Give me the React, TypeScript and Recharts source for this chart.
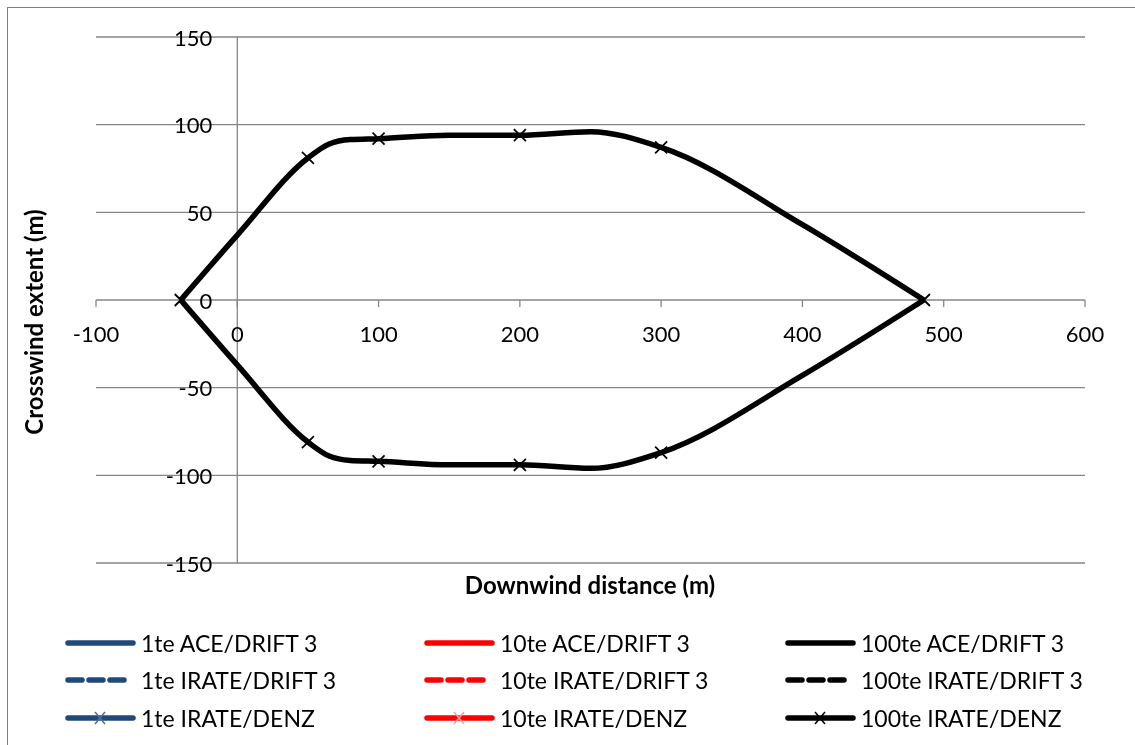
import type { ReactElement } from 'react';
import {
  LineChart,
  Line,
  Scatter,
  XAxis,
  YAxis,
  CartesianGrid,
  ReferenceLine,
  Legend,
} from 'recharts';

/* ------------------------------------------------------------------ */
/*  Data                               */
/* ------------------------------------------------------------------ */

// upper edge of the 100te cloud (downwind m, crosswind m)
const UPPER_EDGE = [
  { x: -40, y: 0 },
  { x: 0, y: 37 },
  { x: 50, y: 81 },
  { x: 65, y: 89 },
  { x: 80, y: 91.5 },
  { x: 100, y: 92 },
  { x: 150, y: 94 },
  { x: 200, y: 94 },
  { x: 250, y: 96 },
  { x: 300, y: 87 },
  { x: 400, y: 43 },
  { x: 486, y: 0 },
];

const LOWER_EDGE = [
  { x: -40, y: 0 },
  { x: 0, y: -37 },
  { x: 50, y: -81 },
  { x: 65, y: -89 },
  { x: 80, y: -91.5 },
  { x: 100, y: -92 },
  { x: 150, y: -94 },
  { x: 200, y: -94 },
  { x: 250, y: -96 },
  { x: 300, y: -87 },
  { x: 400, y: -43 },
  { x: 486, y: 0 },
];

// IRATE/DENZ points (drawn as crosses)
const DENZ_POINTS = [
  { x: -40, y: 0 },
  { x: 50, y: 81 },
  { x: 100, y: 92 },
  { x: 200, y: 94 },
  { x: 300, y: 87 },
  { x: 486, y: 0 },
  { x: 50, y: -81 },
  { x: 100, y: -92 },
  { x: 200, y: -94 },
  { x: 300, y: -87 },
];

const X_TICKS = [-100, 0, 100, 200, 300, 400, 500, 600];
const Y_TICKS = [-150, -100, -50, 0, 50, 100, 150];

const LEGEND_NAMES = [
  '1te ACE/DRIFT 3',
  '10te ACE/DRIFT 3',
  '100te ACE/DRIFT 3',
  '1te IRATE/DRIFT 3',
  '10te IRATE/DRIFT 3',
  '100te IRATE/DRIFT 3',
  '1te IRATE/DENZ',
  '10te IRATE/DENZ',
  '100te IRATE/DENZ',
];
const LEGEND_COLORS = ['#1F497D', '#FF0000', '#000000'];
const LEGEND_CROSS_COLORS = ['#4F6FA0', '#F2A0A0', '#000000'];
const LEGEND_STYLES = ['solid', 'dash', 'cross'];

/* ------------------------------------------------------------------ */
/*  Layout                                                             */
/* ------------------------------------------------------------------ */

const CHART_W = 1127;
const CHART_H = 737;
const PLOT_LEFT = 88;
const PLOT_TOP = 29;
const PLOT_W = 989;
const PLOT_H = 526;
const X_MIN = -100;
const X_MAX = 600;
const AXIS_SIZE = 30;

const ZERO_X = PLOT_LEFT + (PLOT_W * (0 - X_MIN)) / (X_MAX - X_MIN);
const ZERO_Y = PLOT_TOP + PLOT_H / 2;

const FONT = 'Lato, "Open Sans", sans-serif';
const GRID = '#868686';

function XTick(props: any): ReactElement {
  const { x, payload } = props;
  return (
    <g>
      <line x1={x} x2={x} y1={ZERO_Y} y2={ZERO_Y + 7} stroke={GRID} strokeWidth={1.3} />
      <text
        x={x}
        y={ZERO_Y + 33}
        textAnchor="middle"
        dominantBaseline="central"
        fontFamily={FONT}
        fontSize={22}
        fill="#000"
      >
        {payload.value}
      </text>
    </g>
  );
}

function YTick(props: any): ReactElement {
  const { y, payload } = props;
  return (
    <text
      x={ZERO_X - 25}
      y={y}
      textAnchor="end"
      dominantBaseline="central"
      fontFamily={FONT}
      fontSize={22}
      fill="#000"
    >
      {payload.value}
    </text>
  );
}

function Cross(props: any): ReactElement {
  const { cx, cy } = props;
  const s = 6;
  return (
    <g stroke="#000" strokeWidth={1.8}>
      <line x1={cx - s} y1={cy - s} x2={cx + s} y2={cy + s} />
      <line x1={cx - s} y1={cy + s} x2={cx + s} y2={cy - s} />
    </g>
  );
}

function LegendIcon({ color, crossColor, style }: { color: string; crossColor: string; style: string }) {
  return (
    <svg width={72} height={14} style={{ display: 'block', flex: 'none' }}>
      {style === 'dash' ? (
        <line x1={3} x2={64} y1={7} y2={7} stroke={color} strokeWidth={5.5} strokeDasharray="14 7" strokeLinecap="round" />
      ) : (
        <line x1={3} x2={68} y1={7} y2={7} stroke={color} strokeWidth={5.5} strokeLinecap="round" />
      )}
      {style === 'cross' && (
        <g stroke={crossColor} strokeWidth={1.5}>
          <line x1={30} y1={1} x2={40} y2={13} />
          <line x1={30} y1={13} x2={40} y2={1} />
        </g>
      )}
    </svg>
  );
}

function ChartLegend(): ReactElement {
  return (
    <div
      style={{
        display: 'grid',
        gridTemplateColumns: '359px 361px 320px',
        gridAutoRows: '37.5px',
        paddingLeft: 57,
        fontFamily: FONT,
        fontSize: 23,
        color: '#000',
      }}
    >
      {LEGEND_NAMES.map((name, i) => (
        <div key={name} style={{ display: 'flex', alignItems: 'center', whiteSpace: 'nowrap' }}>
          <LegendIcon
            color={LEGEND_COLORS[i % 3]}
            crossColor={LEGEND_CROSS_COLORS[i % 3]}
            style={LEGEND_STYLES[Math.floor(i / 3)]}
          />
          <span style={{ marginLeft: 4 }}>{name}</span>
        </div>
      ))}
    </div>
  );
}

export default function App(): ReactElement {
  return (
    <div style={{ position: 'relative', width: CHART_W, height: CHART_H }}>
      {/* chart frame: only its left and top edges fall inside the picture */}
      <div
        style={{
          position: 'fixed',
          left: 7,
          top: 7,
          width: 1200,
          height: 800,
          border: '1px solid #7f7f7f',
          pointerEvents: 'none',
        }}
      />
      <LineChart
        width={CHART_W}
        height={CHART_H}
        margin={{
          top: PLOT_TOP,
          left: PLOT_LEFT - AXIS_SIZE,
          right: CHART_W - PLOT_LEFT - PLOT_W,
          bottom: CHART_H - PLOT_TOP - PLOT_H - AXIS_SIZE,
        }}
      >
        <CartesianGrid vertical={false} stroke={GRID} strokeWidth={1.3} />
        <XAxis
          dataKey="x"
          type="number"
          domain={[X_MIN, X_MAX]}
          ticks={X_TICKS}
          axisLine={false}
          tickLine={false}
          height={AXIS_SIZE}
          tick={<XTick />}
          interval={0}
          allowDataOverflow
        />
        <YAxis
          dataKey="y"
          type="number"
          domain={[-150, 150]}
          ticks={Y_TICKS}
          axisLine={false}
          tickLine={false}
          width={AXIS_SIZE}
          tick={<YTick />}
          interval={0}
          allowDataOverflow
        />
        <ReferenceLine x={0} stroke={GRID} strokeWidth={1.3} />

        <Line
          data={UPPER_EDGE}
          dataKey="y"
          name="100te ACE/DRIFT 3"
          type="monotoneX"
          stroke="#000"
          strokeWidth={5.5}
          dot={false}
          isAnimationActive={false}
        />
        <Line
          data={LOWER_EDGE}
          dataKey="y"
          name="100te ACE/DRIFT 3 lower"
          type="monotoneX"
          stroke="#000"
          strokeWidth={5.5}
          dot={false}
          isAnimationActive={false}
        />
        <Scatter
          data={DENZ_POINTS}
          dataKey="y"
          name="100te IRATE/DENZ"
          shape={<Cross />}
          isAnimationActive={false}
        />

        <text
          x={582}
          y={576}
          textAnchor="middle"
          dominantBaseline="central"
          fontFamily={FONT}
          fontWeight="bold"
          fontSize={24}
        >
          Downwind distance (m)
        </text>
        <text
          x={25}
          y={314}
          transform="rotate(-90 25 314)"
          textAnchor="middle"
          dominantBaseline="central"
          fontFamily={FONT}
          fontWeight="bold"
          fontSize={24}
        >
          Crosswind extent (m)
        </text>

        <Legend
          layout="vertical"
          align="center"
          verticalAlign="middle"
          wrapperStyle={{ left: 0, top: 616, width: CHART_W }}
          content={<ChartLegend />}
        />
      </LineChart>
    </div>
  );
}
